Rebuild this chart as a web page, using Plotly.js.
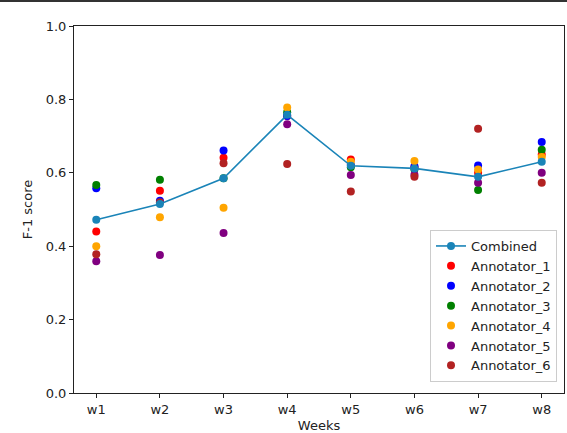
<!DOCTYPE html>
<html>
<head>
<meta charset="utf-8">
<script src="https://cdn.plot.ly/plotly-3.0.1.min.js"></script>
<style>
  html, body { margin: 0; padding: 0; background: #fff; }
  #wrap { position: relative; width: 567px; height: 433px; }
  #chart { width: 567px; height: 433px; }
  #topline { position: absolute; left: 0; top: 0; width: 567px; height: 2px; background: #333; z-index: 5; }
</style>
</head>
<body>
<div id="wrap">
  <div id="chart"></div>
  <div id="topline"></div>
</div>
<script>
// weeks on the x axis
var weeks = ['w1', 'w2', 'w3', 'w4', 'w5', 'w6', 'w7', 'w8'];

// F-1 scores
var combined    = [0.472, 0.515, 0.585, 0.758, 0.619, 0.612, 0.589, 0.630];
var annotator1  = [0.440, 0.551, 0.641, 0.755, 0.636, 0.615, 0.600, 0.650];
var annotator2  = [0.558, 0.524, 0.661, 0.755, 0.622, 0.618, 0.620, 0.684];
var annotator3  = [0.567, 0.581, 0.585, 0.765, 0.615, 0.610, 0.553, 0.663];
var annotator4  = [0.400, 0.479, 0.505, 0.778, 0.630, 0.632, 0.609, 0.643];
var annotator5  = [0.359, 0.376, 0.436, 0.732, 0.594, 0.595, 0.573, 0.600];
var annotator6  = [0.378, 0.520, 0.626, 0.624, 0.549, 0.589, 0.720, 0.573];

var annotators = [
  { name: 'Annotator_1', y: annotator1, color: 'red' },
  { name: 'Annotator_2', y: annotator2, color: 'blue' },
  { name: 'Annotator_3', y: annotator3, color: 'green' },
  { name: 'Annotator_4', y: annotator4, color: 'orange' },
  { name: 'Annotator_5', y: annotator5, color: 'purple' },
  { name: 'Annotator_6', y: annotator6, color: 'firebrick' }
];

var font = { family: 'DejaVu Sans', size: 13, color: '#222' };

var data = [];
annotators.forEach(function (a, i) {
  data.push({
    x: weeks,
    y: a.y,
    name: a.name,
    mode: 'markers',
    type: 'scatter',
    marker: { color: a.color, size: 8 },
    legendrank: i + 2
  });
});

// drawn last so it sits on top, but listed first in the legend
data.push({
  x: weeks,
  y: combined,
  name: 'Combined',
  mode: 'lines+markers',
  type: 'scatter',
  line: { color: '#1a84b8', width: 1.6 },
  marker: { color: '#1a84b8', size: 8 },
  legendrank: 1
});

var plotW = 567 - 74 - 3;
var plotH = 433 - 26 - 40;

var layout = {
  width: 567,
  height: 433,
  margin: { l: 74, r: 3, t: 26, b: 40, pad: 0 },
  paper_bgcolor: '#fff',
  plot_bgcolor: '#fff',
  font: font,
  showlegend: true,
  xaxis: {
    type: 'category',
    range: [-0.35, 7.35],
    showgrid: false,
    zeroline: false,
    showline: true,
    mirror: true,
    linecolor: '#222',
    linewidth: 1,
    ticks: 'outside',
    ticklen: 4,
    tickcolor: '#222',
    tickfont: font,
    title: { text: 'Weeks', font: font, standoff: 8 }
  },
  yaxis: {
    range: [0, 1],
    dtick: 0.2,
    tickformat: '.1f',
    showgrid: false,
    zeroline: false,
    showline: true,
    mirror: true,
    linecolor: '#222',
    linewidth: 1,
    ticks: 'outside',
    ticklen: 4,
    tickcolor: '#222',
    tickfont: font,
    title: { text: 'F-1 score', font: font, standoff: 10 }
  },
  legend: {
    x: (557 - 74) / plotW,
    y: (393 - 382) / plotH,
    xanchor: 'right',
    yanchor: 'bottom',
    bgcolor: 'rgba(255,255,255,0.8)',
    bordercolor: '#ccc',
    borderwidth: 1,
    font: font,
    tracegroupgap: 0
  }
};

Plotly.newPlot('chart', data, layout, { displayModeBar: false, staticPlot: true });
</script>
</body>
</html>
